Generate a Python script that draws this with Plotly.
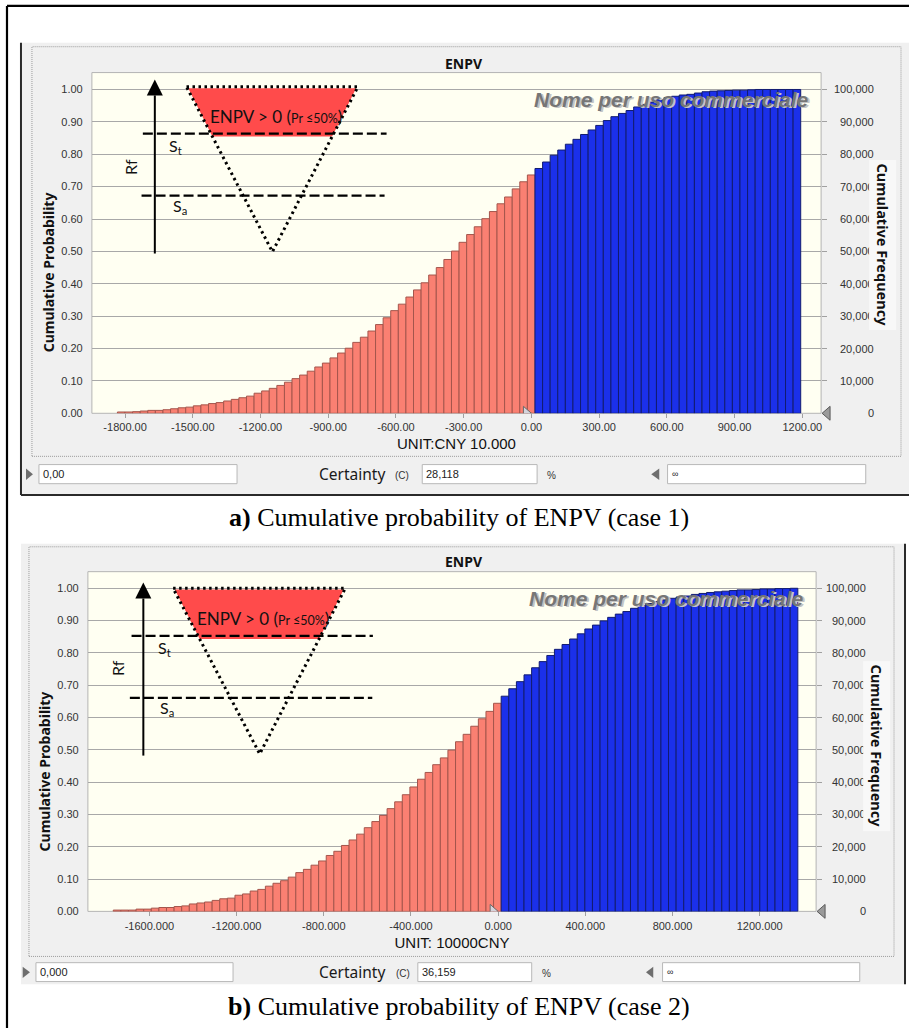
import numpy as np
import plotly.graph_objects as go

W, H = 910, 1034

# ---------------- data ----------------
cum_prob_case1 = [
    0.004, 0.004, 0.005, 0.007, 0.009, 0.009, 0.011, 0.014, 0.017, 0.019,
    0.023, 0.026, 0.030, 0.033, 0.038, 0.043, 0.048, 0.053, 0.062, 0.069,
    0.077, 0.086, 0.096, 0.107, 0.118, 0.130, 0.143, 0.155, 0.171, 0.186,
    0.201, 0.219, 0.235, 0.254, 0.274, 0.295, 0.317, 0.337, 0.359, 0.381,
    0.403, 0.427, 0.450, 0.475, 0.501, 0.528, 0.552, 0.576, 0.601, 0.623,
    0.647, 0.668, 0.693, 0.715,
    0.736, 0.756, 0.776, 0.797, 0.813, 0.831, 0.846, 0.861, 0.875, 0.889,
    0.904, 0.916, 0.926, 0.935, 0.946, 0.954, 0.961, 0.968, 0.975, 0.979,
    0.983, 0.985, 0.989, 0.993, 0.995, 0.996, 0.997, 0.998, 0.998, 0.999,
    1.000, 1.000, 1.000, 1.000, 1.000, 1.000,
]
cum_prob_case2 = [
    0.004, 0.004, 0.004, 0.007, 0.007, 0.010, 0.012, 0.012, 0.015, 0.017,
    0.023, 0.026, 0.029, 0.034, 0.039, 0.041, 0.050, 0.054, 0.063, 0.068,
    0.078, 0.087, 0.095, 0.106, 0.120, 0.130, 0.143, 0.156, 0.173, 0.186,
    0.204, 0.221, 0.239, 0.259, 0.278, 0.297, 0.318, 0.339, 0.361, 0.385,
    0.409, 0.430, 0.454, 0.475, 0.499, 0.525, 0.548, 0.573, 0.596, 0.619,
    0.644,
    0.666, 0.689, 0.711, 0.732, 0.754, 0.773, 0.792, 0.811, 0.826, 0.843,
    0.859, 0.874, 0.886, 0.899, 0.910, 0.920, 0.928, 0.938, 0.947, 0.953,
    0.959, 0.964, 0.969, 0.973, 0.976, 0.981, 0.984, 0.987, 0.989, 0.991,
    0.993, 0.995, 0.995, 0.996, 0.998, 0.998, 0.999, 0.999, 1.000,
]
bin_range_case1 = [-1834.0, 1193.0]
bin_range_case2 = [-1766.0, 1375.0]

x_ticks_case1 = [-1800, -1500, -1200, -900, -600, -300, 0, 300, 600, 900, 1200]
x_ticklabels_case1 = ["-1800.00", "-1500.00", "-1200.00", "-900.00", "-600.00",
                      "-300.00", "0.00", "300.00", "600.00", "900.00", "1200.00"]
x_ticks_case2 = [-1600, -1200, -800, -400, 0, 400, 800, 1200]
x_ticklabels_case2 = ["-1600.000", "-1200.000", "-800.000", "-400.000",
                      "0.000", "400.000", "800.000", "1200.000"]
prob_ticks = [0.0, 0.1, 0.2, 0.3, 0.4, 0.5, 0.6, 0.7, 0.8, 0.9, 1.0]
prob_ticklabels = ["0.00", "0.10", "0.20", "0.30", "0.40", "0.50",
                   "0.60", "0.70", "0.80", "0.90", "1.00"]
freq_ticks = [0, 10000, 20000, 30000, 40000, 50000, 60000, 70000, 80000, 90000, 100000]
freq_ticklabels = ["0", "10,000", "20,000", "30,000", "40,000", "50,000",
                   "60,000", "70,000", "80,000", "90,000", "100,000"]
x_titles = ["UNIT:CNY 10.000", "UNIT: 10000CNY"]
certainty_values = ["28,118", "36,159"]
lower_values = ["0,00", "0,000"]
captions = ["<b>a)</b> Cumulative probability of ENPV (case 1)",
            "<b>b)</b> Cumulative probability of ENPV (case 2)"]
chart_title = "ENPV"
watermark = "Nome per uso commerciale"

RED, RED_EDGE = "#fa8072", "#a4554c"
BLUE, BLUE_EDGE = "#1b30ea", "#121c70"
PLOT_BG = "#fffff2"
WIN_BG = "#f0f0f0"
GRID = "#a8a8a8"
TICK_FONT = "Liberation Sans"
UI_FONT = "Lato"
BOLD_FONT = "Noto Sans"

# ---------------- helpers (pixel -> paper) ----------------
shapes, annotations = [], []


def px(x):
    return x / W


def py(y):
    return 1 - y / H


def rect(x0, y0, x1, y1, fill="rgba(0,0,0,0)", line=None, lw=1, dash=None, layer="below"):
    shapes.append(dict(type="rect", xref="paper", yref="paper",
                       x0=px(x0), x1=px(x1), y0=py(y1), y1=py(y0),
                       fillcolor=fill, layer=layer,
                       line=dict(color=line or "rgba(0,0,0,0)", width=lw if line else 0, dash=dash)))


def poly(points, fill, line=None, lw=1, dash=None, layer="above", closed=True):
    d = "M " + " L ".join(f"{px(x):.5f},{py(y):.5f}" for x, y in points) + (" Z" if closed else "")
    shapes.append(dict(type="path", xref="paper", yref="paper", path=d,
                       fillcolor=fill, layer=layer,
                       line=dict(color=line or "rgba(0,0,0,0)", width=lw if line else 0, dash=dash)))


def seg(x0, y0, x1, y1, color="#000", lw=1, dash=None, layer="above"):
    shapes.append(dict(type="line", xref="paper", yref="paper",
                       x0=px(x0), x1=px(x1), y0=py(y0), y1=py(y1), layer=layer,
                       line=dict(color=color, width=lw, dash=dash)))


def text(x, y, s, size, color="#111", family=UI_FONT, xanchor="center", angle=0, bg=None, yref=None, yval=None):
    a = dict(x=px(x), y=py(y) if yref is None else yval, xref="paper", yref=yref or "paper",
             text=s, showarrow=False, xanchor=xanchor, yanchor="middle", textangle=angle,
             font=dict(size=size, color=color, family=family), borderpad=0)
    if bg:
        a["bgcolor"] = bg
        a["borderpad"] = 3
    annotations.append(a)


# ---------------- panel geometry ----------------
panels = [
    dict(cum=cum_prob_case1, bins=bin_range_case1, xt=x_ticks_case1, xl=x_ticklabels_case1,
         xtitle=x_titles[0], cert=certainty_values[0], low=lower_values[0], cap=captions[0],
         xa="x", ya="y", ya2="y2", xr=[-1947.0, 1283.3], ytop=1.0522,
         plot=(92, 73, 822, 415.7), win=(21, 43, 910, 498), dotted=(32, 47, 902, 459),
         title=(465, 64), wm=(811, 100), ltitle=(48, 274), rtitle=(884, 246), rlab=876,
         arrow=(155, 255, 80, 96), rf=(130, 168),
         tri=((186.7, 87.3), (358.3, 87.3), (272.7, 253.3)), red_y=(88.8, 137.3), enpv=(276, 117),
         st=(143, 387, 134.5), sa=(141.7, 385, 196.7), stl=(176, 147), sal=(180, 208),
         row=dict(y=477, yb=(467.3, 486.5), tri=(26, 33), b1=(39, 237.3), cert=352, c=402.5,
                  b2=(422.7, 537.7), pct=552, ltri=(652, 660), b3=(668.3, 866.7)),
         cap_y=521, dark="lb"),
    dict(cum=cum_prob_case2, bins=bin_range_case2, xt=x_ticks_case2, xl=x_ticklabels_case2,
         xtitle=x_titles[1], cert=certainty_values[1], low=lower_values[1], cap=captions[1],
         xa="x2", ya="y3", ya2="y4", xr=[-1882.3, 1458.8], ytop=1.0514,
         plot=(88, 575, 817, 916.7), win=(21, 547, 906, 990), dotted=(29, 550, 895, 962),
         title=(465, 565), wm=(806, 602), ltitle=(45, 776), rtitle=(878, 750), rlab=868,
         arrow=(143.5, 760, 586, 602), rf=(118.3, 671.7),
         tri=((173.3, 591.7), (345.7, 591.7), (260, 758.3)), red_y=(593.0, 642.7), enpv=(263, 622),
         st=(131.7, 373.3, 639.5), sa=(130, 372.7, 702), stl=(165, 652.7), sal=(167, 713),
         row=dict(y=978, yb=(968.3, 987.3), tri=(22.7, 30), b1=(36, 233.3), cert=352, c=403,
                  b2=(418.3, 532.3), pct=547, ltri=(646.7, 654), b3=(663.3, 860.7)),
         cap_y=1012, dark="r"),
]

fig = go.Figure()
layout_axes = {}

# outer frame
seg(7, 6, 7, 1034, "#000", 2.2, layer="below")
seg(7, 6, 910, 6, "#000", 2.2, layer="below")

for i, p in enumerate(panels):
    x0, y0, x1, y1 = p["plot"]
    # window chrome
    wx0, wy0, wx1, wy1 = p["win"]
    rect(wx0, wy0, wx1, wy1, fill=WIN_BG)
    if "l" in p["dark"]:
        seg(wx0, wy0, wx0, wy1, "#2a2a2a", 2, layer="below")
    if "b" in p["dark"]:
        seg(wx0, wy1, wx1, wy1, "#2a2a2a", 2, layer="below")
    if "r" in p["dark"]:
        seg(wx1, wy0, wx1, wy1, "#2a2a2a", 2, layer="below")
    dx0, dy0, dx1, dy1 = p["dotted"]
    rect(dx0, dy0, dx1, dy1, line="#9a9a9a", lw=1, dash="1px,1px")
    # plot area background
    rect(x0, y0, x1, y1, fill=PLOT_BG, line="#b4b4b4", lw=1)

    # bars
    cum = np.array(p["cum"])
    n = len(cum)
    edges = np.linspace(p["bins"][0], p["bins"][1], n + 1)
    centers = (edges[:-1] + edges[1:]) / 2
    bw = edges[1] - edges[0]
    neg = centers < 0
    fig.add_trace(go.Bar(
        x=centers, y=cum, width=bw, xaxis=p["xa"], yaxis=p["ya"],
        marker=dict(color=np.where(neg, RED, BLUE).tolist(),
                    line=dict(color=np.where(neg, RED_EDGE, BLUE_EDGE).tolist(), width=1)),
        showlegend=False, hoverinfo="skip"))
    fig.add_trace(go.Scatter(x=[None], y=[None], xaxis=p["xa"], yaxis=p["ya2"],
                             showlegend=False, hoverinfo="skip"))

    xk = "xaxis" if p["xa"] == "x" else "xaxis" + p["xa"][1:]
    yk = "yaxis" if p["ya"] == "y" else "yaxis" + p["ya"][1:]
    y2k = "yaxis" + p["ya2"][1:]
    layout_axes[xk] = dict(
        domain=[px(x0), px(x1)], anchor=p["ya"], range=p["xr"],
        tickvals=p["xt"], ticktext=p["xl"], ticks="outside", ticklen=4, tickcolor="#a0a0a0",
        showgrid=False, zeroline=False, showline=False,
        tickfont=dict(family=TICK_FONT, size=11, color="#333"),
        title=dict(text=p["xtitle"], standoff=6, font=dict(family=TICK_FONT, size=15, color="#111")))
    layout_axes[yk] = dict(
        domain=[py(y1), py(y0)], anchor=p["xa"], range=[0, p["ytop"]],
        tickvals=prob_ticks, ticktext=prob_ticklabels, ticks="outside", ticklen=6,
        tickcolor="rgba(0,0,0,0)", showgrid=True, gridcolor=GRID, gridwidth=1.3,
        zeroline=False, showline=False,
        tickfont=dict(family=TICK_FONT, size=11, color="#333"))
    layout_axes[y2k] = dict(
        overlaying=p["ya"], side="right", anchor=p["xa"], range=[0, p["ytop"] * 100000],
        tickvals=freq_ticks, showticklabels=False, ticks="outside", ticklen=5,
        tickcolor="#a0a0a0", showgrid=False, zeroline=False, showline=False)

    # right axis labels (right aligned like the reference)
    for v, lab in zip(freq_ticks, freq_ticklabels):
        text(p["rlab"], 0, lab, 11, "#333", TICK_FONT, xanchor="right", yref=p["ya2"], yval=v)

    # axis titles, chart title
    text(*p["ltitle"], "<b>Cumulative Probability</b>", 14, "#111", BOLD_FONT, angle=-90)
    text(*p["rtitle"], "<b>Cumulative Frequency</b>", 14.5, "#111", BOLD_FONT, angle=90, bg="#f8f8f8")
    text(*p["title"], "<b>" + chart_title + "</b>", 14, "#111", BOLD_FONT)

    # watermark with shadow
    wmx, wmy = p["wm"]
    text(wmx + 1.5, wmy + 1.5, "<b><i>" + watermark + "</i></b>", 21, "#c4c4c4", TICK_FONT, xanchor="right")
    text(wmx, wmy, "<b><i>" + watermark + "</i></b>", 21, "#767676", TICK_FONT, xanchor="right")

    # certainty markers on the axis
    shapes.append(dict(type="path", xref=p["xa"], yref=p["ya"], xsizemode="pixel", ysizemode="pixel",
                       xanchor=0, yanchor=0, path="M -8,7 L 0,0 L -8,-7 Z",
                       fillcolor="#d4d4dc", line=dict(color="#6a6a6a", width=1), layer="above"))
    poly([(x1 + 9, y1 - 7), (x1 + 1, y1), (x1 + 9, y1 + 7)], "#9a9a9a", "#5a5a5a", 1)

    # ---- overlay diagram ----
    ax, ab, at, ahb = p["arrow"]
    seg(ax, ab, ax, ahb, "#000", 2)
    poly([(ax - 8, ahb), (ax + 8, ahb), (ax, at)], "#000")
    text(*p["rf"], "Rf", 16, "#111", angle=-90)
    (tlx, tly), (trx, try_), (apx, apy) = p["tri"]
    rt, rb = p["red_y"]

    def edge_x(yv, xa_, ya_):
        t = (yv - ya_) / (apy - ya_)
        return xa_ + t * (apx - xa_)

    poly([(edge_x(rt, tlx, tly) + 1, rt), (edge_x(rt, trx, try_) - 1, rt),
          (edge_x(rb, trx, try_), rb), (edge_x(rb, tlx, tly), rb)], "#ff4b4b")
    poly([(tlx, tly), (trx, try_), (apx, apy)], "rgba(0,0,0,0)", "#000", 3, dash="2.5px,3.5px")
    sx0, sx1, sy = p["st"]
    seg(sx0, sy, sx1, sy, "#000", 2.3, dash="10px,4px")
    ax0_, ax1_, ay_ = p["sa"]
    seg(ax0_, ay_, ax1_, ay_, "#000", 2.3, dash="10px,4px")
    text(*p["stl"], "S<sub>t</sub>", 16, "#111")
    text(*p["sal"], "S<sub>a</sub>", 16, "#111")
    text(*p["enpv"], "ENPV &gt; 0 (<span style='font-size:12.5px'>Pr ≤50%</span>)", 17, "#111")

    # ---- certainty row ----
    r = p["row"]
    rb0, rb1 = r["yb"]
    ry = r["y"]
    poly([(r["tri"][0], ry - 5.7), (r["tri"][1], ry), (r["tri"][0], ry + 5.7)], "#6e6e6e", layer="below")
    rect(r["b1"][0], rb0, r["b1"][1], rb1, fill="#ffffff", line="#b8b8b8")
    text(r["b1"][0] + 3, ry, p["low"], 11, "#222", TICK_FONT, xanchor="left")
    text(r["cert"], ry, "Certainty", 15.5, "#1a1a1a", "Noto Sans")
    text(r["c"], ry + 1, "(C)", 10, "#333", TICK_FONT)
    rect(r["b2"][0], rb0, r["b2"][1], rb1, fill="#ffffff", line="#b8b8b8")
    text(r["b2"][0] + 3, ry, p["cert"], 11, "#222", TICK_FONT, xanchor="left")
    text(r["pct"], ry + 1, "%", 10, "#333", TICK_FONT)
    poly([(r["ltri"][1], ry - 5.7), (r["ltri"][0], ry), (r["ltri"][1], ry + 5.7)], "#6e6e6e", layer="below")
    rect(r["b3"][0], rb0, r["b3"][1], rb1, fill="#ffffff", line="#b8b8b8")
    text(r["b3"][0] + 3, ry, "∞", 9, "#222", TICK_FONT, xanchor="left")

    # caption
    text(460, p["cap_y"], p["cap"], 26, "#000", "Liberation Serif")

fig.update_layout(
    width=W, height=H, margin=dict(l=0, r=0, t=0, b=0),
    paper_bgcolor="#ffffff", plot_bgcolor="rgba(0,0,0,0)",
    showlegend=False, shapes=shapes, annotations=annotations, **layout_axes)

fig.write_html("out.html")
